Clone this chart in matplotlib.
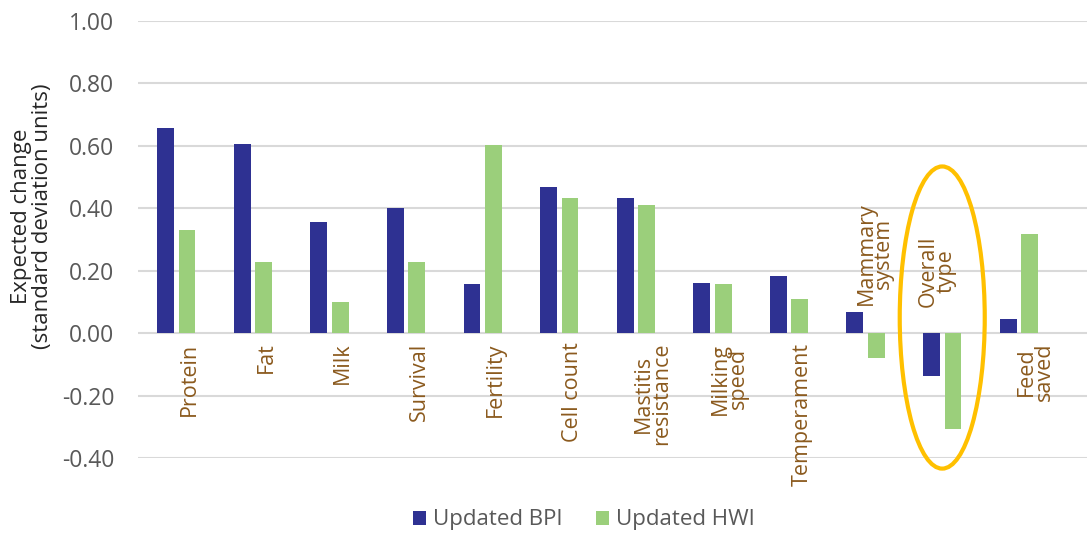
import matplotlib
matplotlib.use("Agg")
import matplotlib.pyplot as plt
from matplotlib.patches import Ellipse
import numpy as np

categories = ["Protein", "Fat", "Milk", "Survival", "Fertility", "Cell count",
              "Mastitis\nresistance", "Milking\nspeed", "Temperament",
              "Mammary\nsystem", "Overall\ntype", "Feed\nsaved"]
bpi = [0.657, 0.605, 0.356, 0.40, 0.158, 0.469, 0.432, 0.161, 0.183, 0.068, -0.137, 0.044]
hwi = [0.33, 0.228, 0.099, 0.228, 0.603, 0.434, 0.41, 0.156, 0.109, -0.079, -0.308, 0.318]
yticks = [-0.40, -0.20, 0.00, 0.20, 0.40, 0.60, 0.80, 1.00]
series_names = ["Updated BPI", "Updated HWI"]

BLUE = "#2E3192"
GREEN = "#9BCF7B"
BROWN = "#8B5A1E"
GRAY = "#595959"

plt.rcParams['font.family'] = ['Open Sans', 'DejaVu Sans']

fig = plt.figure(figsize=(10.87, 5.35), dpi=100)
ax = fig.add_axes([138/1087, 1-458/535, 1-138/1087, (458-21)/535])

x = np.arange(len(categories))
w = 0.22
b1 = ax.bar(x - 0.14, bpi, width=w, color=BLUE, label=series_names[0], zorder=3)
b2 = ax.bar(x + 0.14, hwi, width=w, color=GREEN, label=series_names[1], zorder=3)

ax.set_xlim(-0.5, 11.89)
ax.set_ylim(-0.40, 1.00)
ax.set_yticks(yticks)
ax.set_yticklabels([f"{v:.2f}" for v in yticks], fontsize=16.5, color=GRAY)
ax.tick_params(axis='y', length=0, pad=17)
ax.set_xticks([])
ax.grid(axis='y', color="#D9D9D9", linewidth=1.5, zorder=0)
for s in ax.spines.values():
    s.set_visible(False)

LFS = 15.5
for i, lab in enumerate(categories):
    if i == 9:
        ax.text(9.12, 0.09, lab, rotation=90, ha='center', va='bottom',
                fontsize=LFS, color=BROWN, linespacing=0.8, clip_on=False, zorder=4)
    elif i == 10:
        ax.text(9.93, 0.083, lab, rotation=90, ha='center', va='bottom',
                fontsize=LFS, color=BROWN, linespacing=0.8, clip_on=False, zorder=4)
    else:
        xo = i + (0.17 if "\n" not in lab else 0.22)
        ax.text(xo, -0.03, lab, rotation=90, ha='center', va='top',
                fontsize=LFS, color=BROWN, linespacing=0.8, clip_on=False, zorder=4)

ell = Ellipse((10, 0.05), width=1.11, height=0.968, fill=False,
              edgecolor="#FFC000", linewidth=3, zorder=5, clip_on=False)
ax.add_patch(ell)

fig.text(32/1087, 1-216/535, "Expected change\n(standard deviation units)", rotation=90,
         ha='center', va='center', fontsize=16, color="#262626", linespacing=0.95)

fig.legend(handles=[b1, b2], labels=series_names, loc='center', ncol=2,
           bbox_to_anchor=(584/1087, 1-520/535), frameon=False, fontsize=16,
           handlelength=0.6, handleheight=0.6, handletextpad=0.3, columnspacing=1.5,
           labelcolor=GRAY)

fig.savefig("out.png", dpi=100)
